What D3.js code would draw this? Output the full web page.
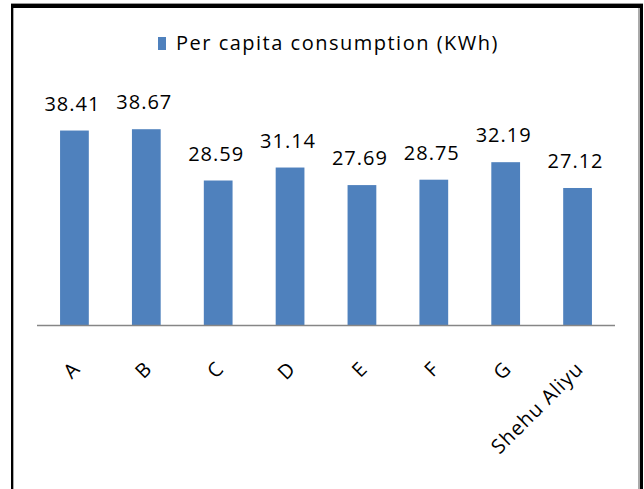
<!DOCTYPE html>
<html>
<head>
<meta charset="utf-8">
<script src="https://cdn.jsdelivr.net/npm/d3@7"></script>
<style>
  body { margin: 0; background: #fff; }
  text { font-family: "Open Sans", sans-serif; fill: #000; }
</style>
</head>
<body>
<div id="chart"></div>
<script>
const categories = ["A", "B", "C", "D", "E", "F", "G", "Shehu Aliyu"];
const consumption = [38.41, 38.67, 28.59, 31.14, 27.69, 28.75, 32.19, 27.12];
const seriesName = "Per capita consumption (KWh)";

const width = 644, height = 489;
const barColor = "#4F81BD";

const svg = d3.select("#chart").append("svg")
  .attr("width", width)
  .attr("height", height);

svg.append("rect").attr("width", width).attr("height", height).attr("fill", "#fff");

// outer frame (black with a grey inner edge)
svg.append("line").attr("x1", 13.5).attr("x2", 13.5).attr("y1", 8).attr("y2", height)
  .attr("stroke", "#aaa").attr("stroke-width", 1);
svg.append("line").attr("x1", 639).attr("x2", 639).attr("y1", 8).attr("y2", height)
  .attr("stroke", "#aaa").attr("stroke-width", 2);
svg.append("line").attr("x1", 11).attr("x2", 643).attr("y1", 3.5).attr("y2", 3.5)
  .attr("stroke", "#999").attr("stroke-width", 1);
svg.append("line").attr("x1", 11).attr("x2", 643).attr("y1", 6).attr("y2", 6)
  .attr("stroke", "#000").attr("stroke-width", 4);
svg.append("line").attr("x1", 12).attr("x2", 12).attr("y1", 4).attr("y2", height)
  .attr("stroke", "#000").attr("stroke-width", 2);
svg.append("line").attr("x1", 641.5).attr("x2", 641.5).attr("y1", 4).attr("y2", height)
  .attr("stroke", "#000").attr("stroke-width", 3);

const x = d3.scaleBand()
  .domain(categories)
  .range([38.5, 613.5])
  .paddingInner(0.6)
  .paddingOuter(0.3);

const y = d3.scaleLinear()
  .domain([0, 45])
  .range([326, 97]);

// bars
svg.selectAll(".bar")
  .data(categories)
  .enter().append("rect")
  .attr("class", "bar")
  .attr("x", d => x(d))
  .attr("width", x.bandwidth())
  .attr("y", (d, i) => y(consumption[i]))
  .attr("height", (d, i) => y(0) - y(consumption[i]))
  .attr("fill", barColor);

// category axis
svg.append("line")
  .attr("x1", 37).attr("x2", 615)
  .attr("y1", y(0) - 0.5).attr("y2", y(0) - 0.5)
  .attr("stroke", "#868686").attr("stroke-width", 1.5);

svg.selectAll(".xlabel")
  .data(categories)
  .enter().append("text")
  .attr("class", "xlabel")
  .attr("text-anchor", "end")
  .attr("font-size", 20)
  .attr("letter-spacing", 1)
  .attr("transform", d => "translate(" + (x(d) + x.bandwidth() / 2 + 7) + "," + (y(0) + 44) + ") rotate(-45)")
  .text(d => d);

// value labels
svg.selectAll(".value")
  .data(categories)
  .enter().append("text")
  .attr("class", "value")
  .attr("text-anchor", "middle")
  .attr("font-size", 20)
  .attr("letter-spacing", 1)
  .attr("x", d => x(d) + x.bandwidth() / 2 - 2)
  .attr("y", (d, i) => y(consumption[i]) - 20)
  .text((d, i) => consumption[i].toFixed(2));

// legend
const legend = svg.append("g");
legend.append("rect")
  .attr("x", 158).attr("y", 37)
  .attr("width", 8).attr("height", 13)
  .attr("fill", barColor);
legend.append("text")
  .attr("x", 176).attr("y", 50)
  .attr("font-size", 20)
  .attr("letter-spacing", 1.5)
  .text(seriesName);
</script>
</body>
</html>
